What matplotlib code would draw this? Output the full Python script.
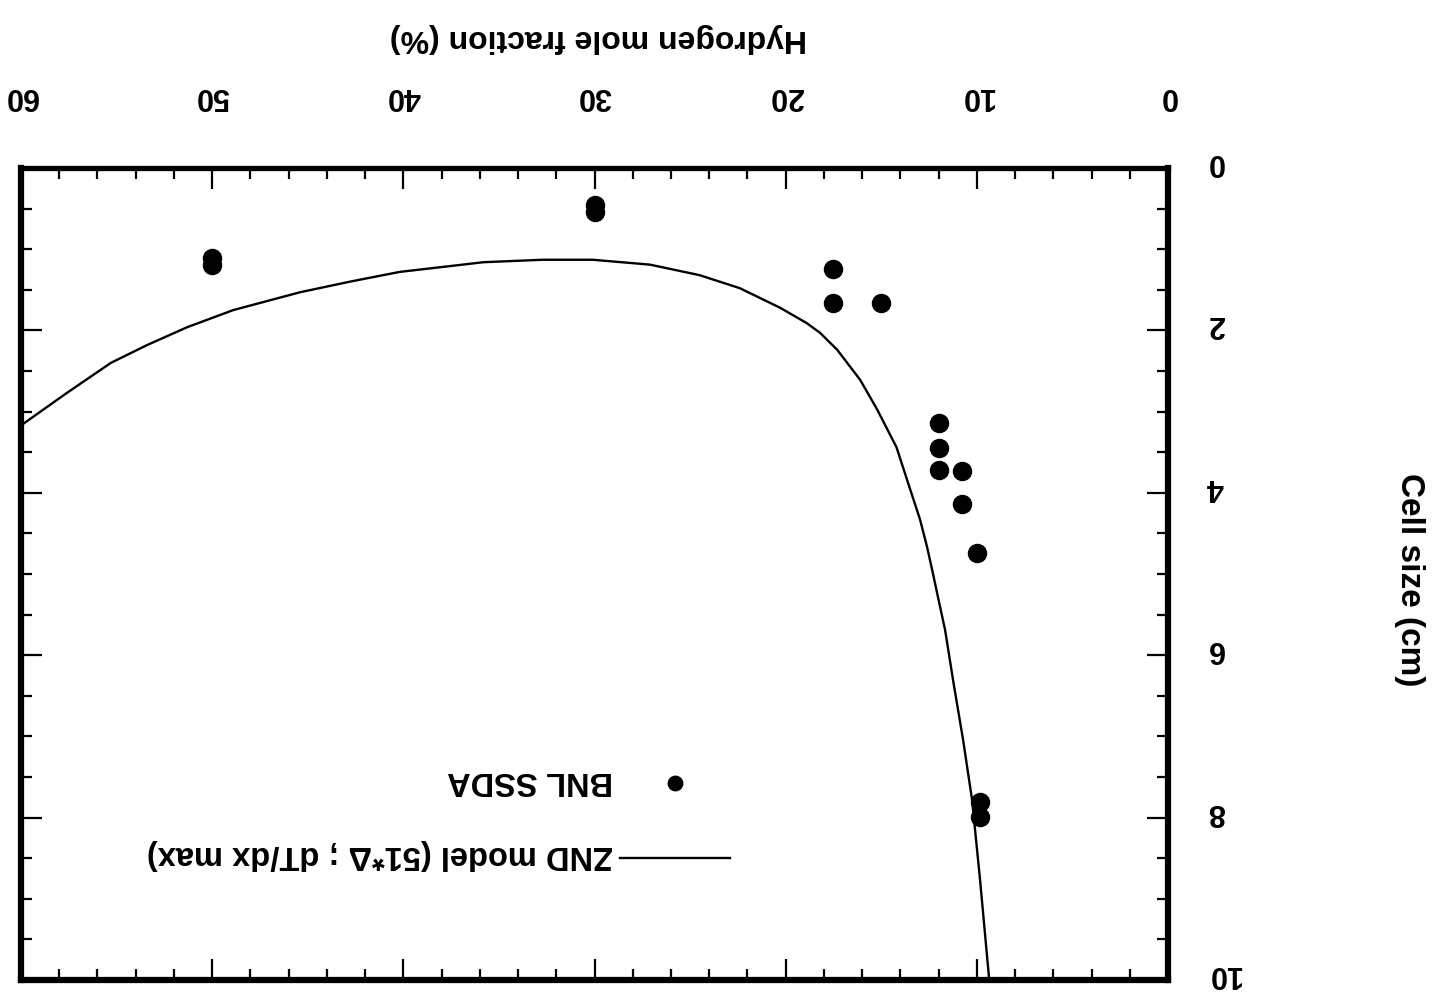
import matplotlib
matplotlib.use("Agg")
import matplotlib.pyplot as plt
from matplotlib.ticker import MultipleLocator
from matplotlib.transforms import Affine2D

plt.rcParams['font.family'] = ['Liberation Sans', 'DejaVu Sans']

# Hydrogen mole fraction (%) and cell size (cm) -- BNL SSDA measurements
ssda_h2 = [50, 50, 30, 30, 17.5, 17.5, 15, 12, 12, 12, 10.8, 10.8, 10, 9.85, 9.85]
ssda_cell = [1.11, 1.19, 0.46, 0.54, 1.24, 1.66, 1.66, 3.14, 3.45, 3.72, 3.73, 4.14,
             4.74, 7.81, 7.99]

# ZND model curve (51*Delta ; dT/dx max)
znd_h2 = [60.0, 57.6, 55.3, 53.4, 51.3, 48.9, 45.4, 42.8, 40.2, 35.8, 32.7, 30.1,
          27.1, 24.5, 22.4, 20.3, 18.9, 18.2, 17.3, 16.1, 15.2, 14.2, 13.65, 12.97,
          12.6, 12.3, 12.0, 11.66, 11.2, 10.72, 10.25, 9.83, 9.36]
znd_cell = [3.17, 2.77, 2.40, 2.18, 1.96, 1.75, 1.53, 1.40, 1.28, 1.16, 1.13, 1.13,
            1.19, 1.32, 1.48, 1.72, 1.91, 2.03, 2.24, 2.61, 2.98, 3.44, 3.84, 4.33,
            4.67, 4.99, 5.32, 5.69, 6.37, 7.04, 7.78, 8.77, 9.98]

x_ticks = [0, 10, 20, 30, 40, 50, 60]
y_ticks = [0, 2, 4, 6, 8, 10]

fig = plt.figure(figsize=(14.36, 10.0), dpi=100)
ax = fig.add_axes([21 / 1436, 20 / 1000, 1147 / 1436, 812 / 1000])

line, = ax.plot(znd_h2, znd_cell, color='black', lw=1.7,
                label='ZND model (51*\u0394 ; dT/dx max)')
pts, = ax.plot(ssda_h2, ssda_cell, 'o', color='black', ms=13, mec='black',
               label='BNL SSDA')

ax.set_xlim(60, 0)
ax.set_ylim(10, 0)
ax.set_xticks(x_ticks)
ax.set_yticks(y_ticks)
ax.xaxis.set_minor_locator(MultipleLocator(2))
ax.yaxis.set_minor_locator(MultipleLocator(0.5))

ax.tick_params(axis='both', which='both', direction='in', top=True, bottom=True,
               left=True, right=True, labeltop=True, labelbottom=False,
               labelright=True, labelleft=False, width=1.6, colors='black')
ax.tick_params(which='major', length=15)
ax.tick_params(which='minor', length=8)
ax.tick_params(axis='x', which='major', pad=41, labelsize=22, labelrotation=180)
ax.tick_params(axis='y', which='major', pad=28, labelsize=22, labelrotation=180)
for t in ax.get_xticklabels() + ax.get_yticklabels():
    t.set_fontweight('bold')
for t in ax.get_yticklabels():
    t.set_verticalalignment('center')
    t.set_transform(t.get_transform() + Affine2D().translate(0, 6))

for s in ax.spines.values():
    s.set_linewidth(4.5)
ax.spines['top'].set_linewidth(3.8)

fig.text(598 / 1436, 1 - 38 / 1000, 'Hydrogen mole fraction (%)', rotation=180,
         ha='center', va='center', fontsize=23, fontweight='bold')
fig.text(1410 / 1436, 1 - 580 / 1000, 'Cell size (cm)', rotation=270,
         ha='center', va='center', fontsize=24, fontweight='bold')

leg = ax.legend([pts, line], ['BNL SSDA', 'ZND model (51*\u0394 ; dT/dx max)'],
                loc='center right', bbox_to_anchor=(0.618, 0.1927),
                frameon=False, markerfirst=False, handlelength=3.37,
                handletextpad=0.21, labelspacing=1.33, borderpad=0,
                borderaxespad=0, markerscale=0.8,
                prop={'size': 23.5, 'weight': 'bold'})
for t in leg.get_texts():
    t.set_rotation(180)
    t.set_transform(t.get_transform() + Affine2D().translate(0, 6))

fig.savefig('out.png', dpi=100, facecolor='white')
